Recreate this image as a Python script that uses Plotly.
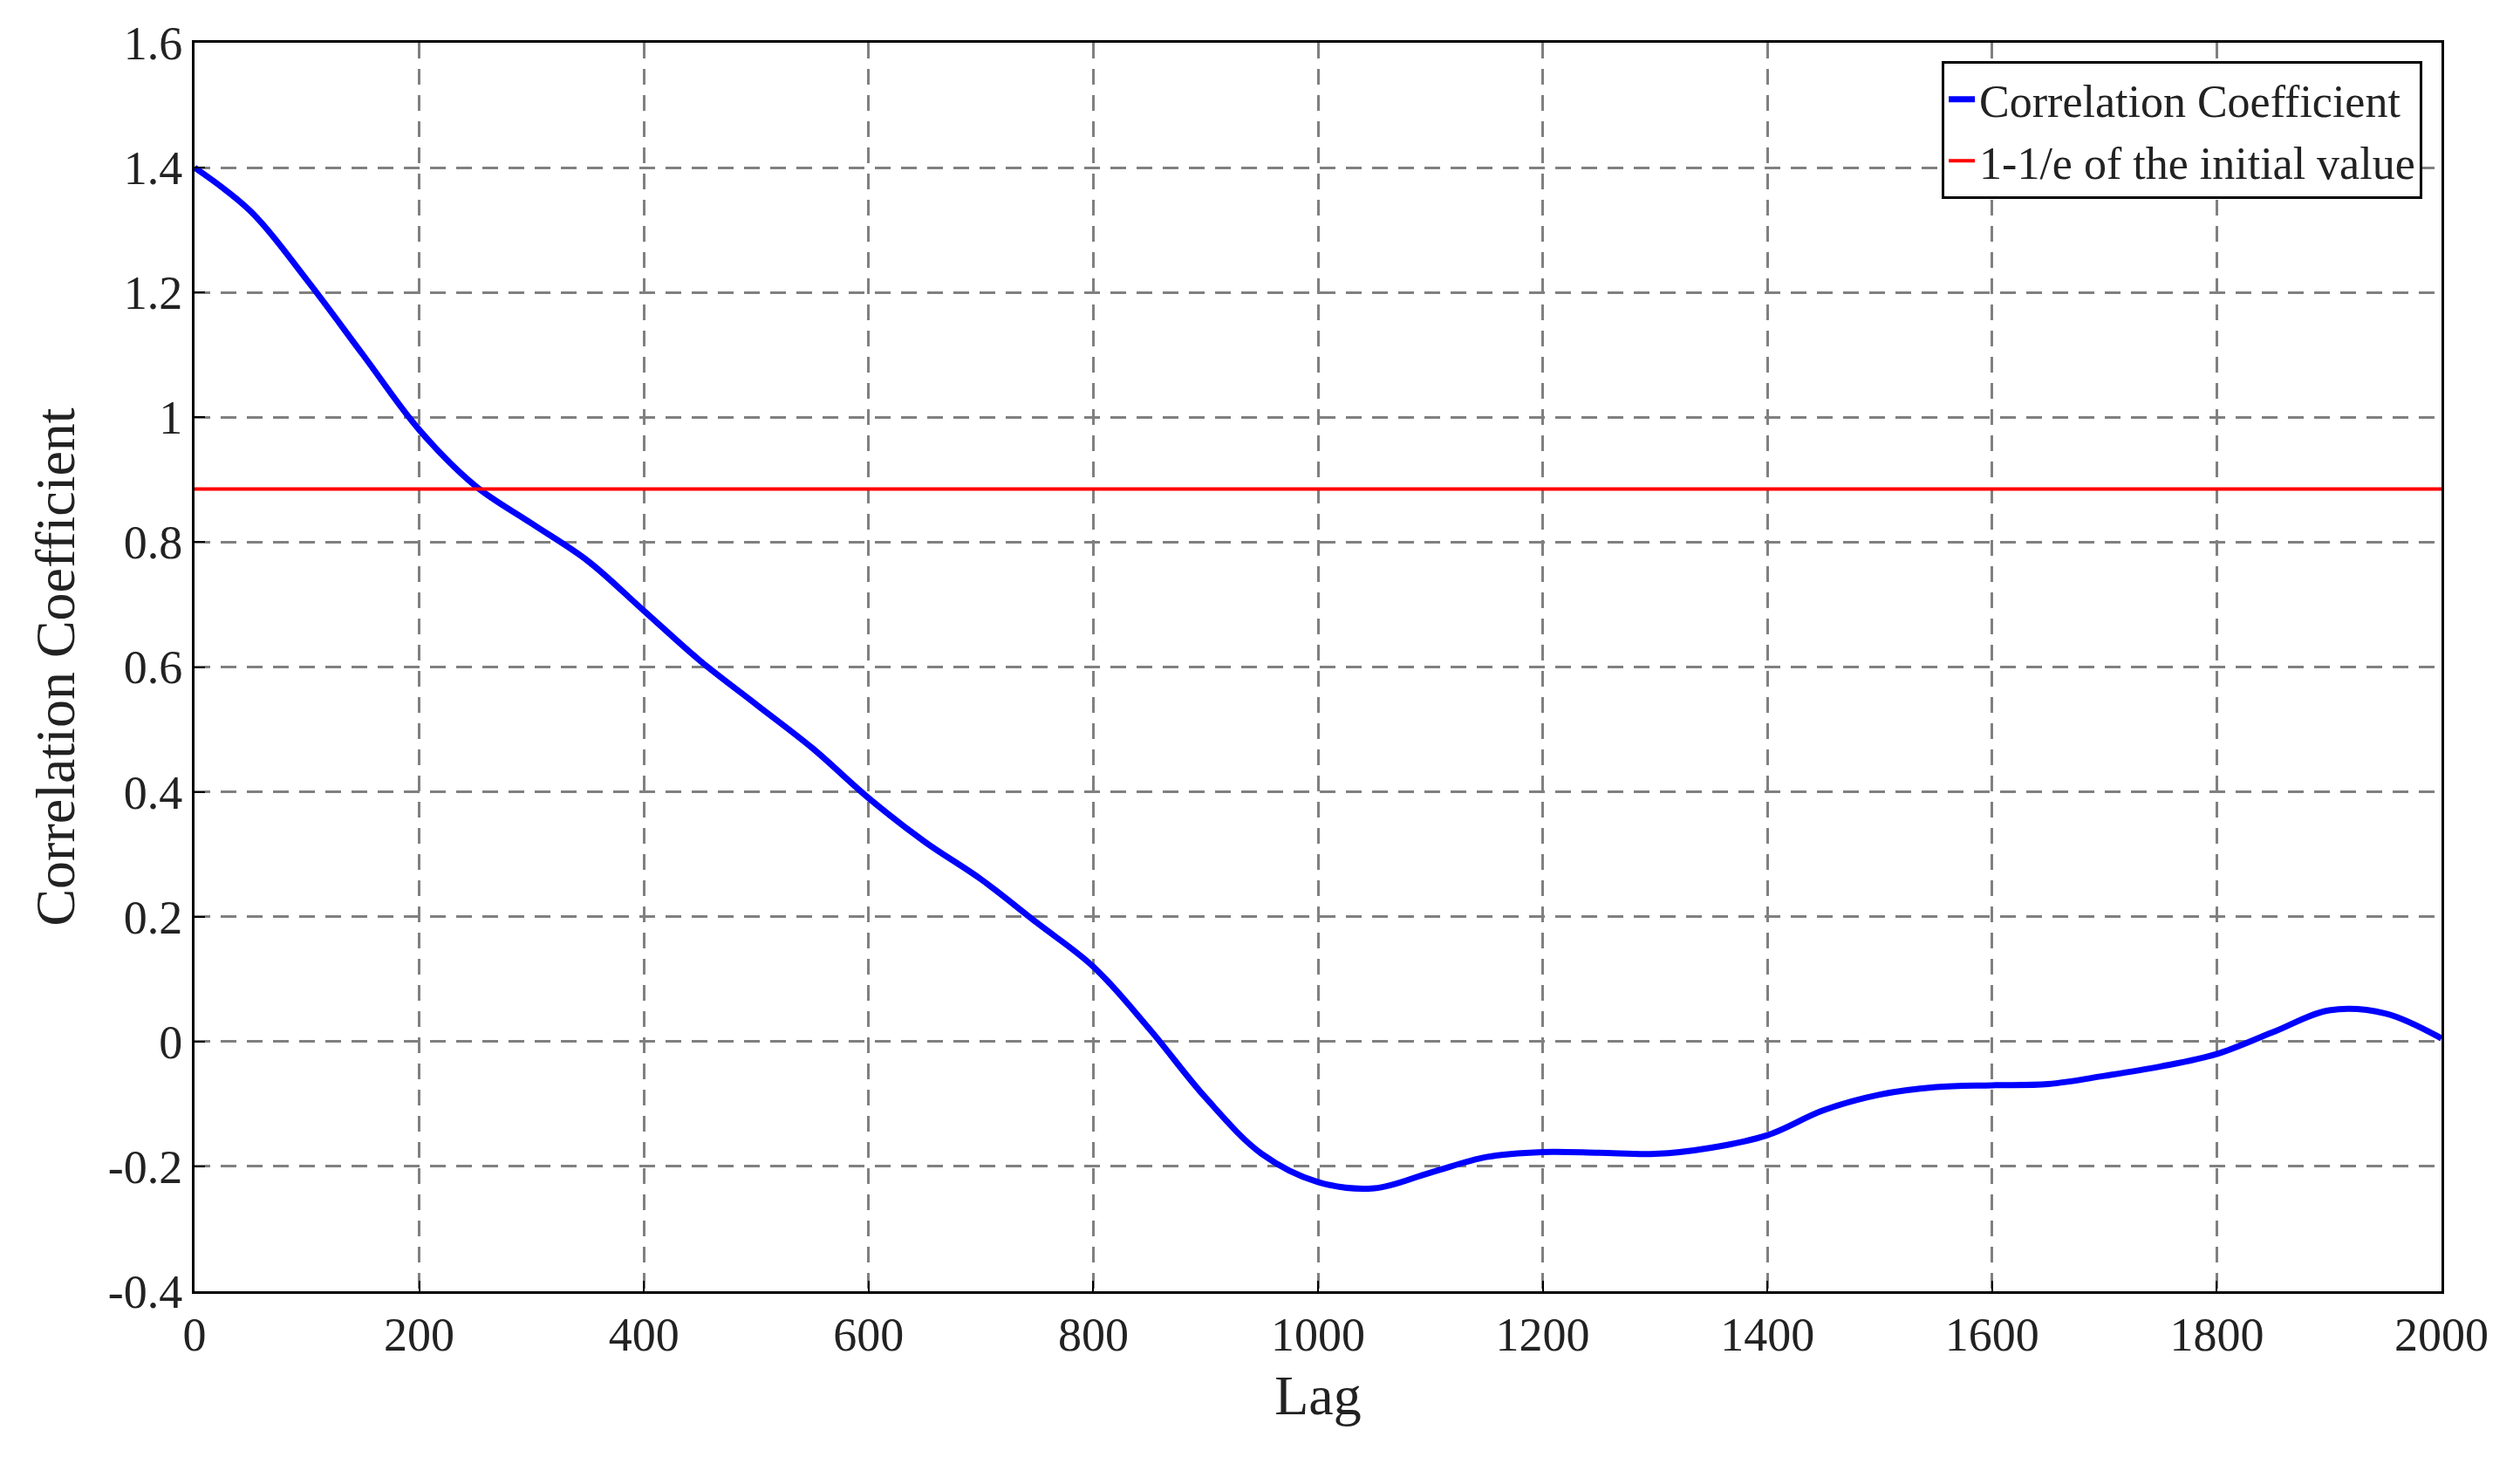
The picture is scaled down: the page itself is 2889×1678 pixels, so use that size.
import plotly.graph_objects as go

lag = list(range(0, 2001, 50))
corr = [1.40, 1.33, 1.22, 1.10, 0.98, 0.89, 0.83, 0.77, 0.69, 0.61, 0.54, 0.47, 0.39, 0.32, 0.26,
        0.19, 0.12, 0.02, -0.09, -0.18, -0.225, -0.235, -0.21, -0.185, -0.177, -0.178, -0.18,
        -0.17, -0.15, -0.11, -0.085, -0.073, -0.07, -0.068, -0.055, -0.04, -0.02, 0.015, 0.05,
        0.045, 0.005]
threshold = 0.885
yticks = [-0.4, -0.2, 0, 0.2, 0.4, 0.6, 0.8, 1, 1.2, 1.4, 1.6]
yticklabels = ["-0.4", "-0.2", "0", "0.2", "0.4", "0.6", "0.8", "1", "1.2", "1.4", "1.6"]

F = "Liberation Serif"
fig = go.Figure()
fig.add_trace(go.Scatter(x=lag, y=corr, mode="lines", line=dict(color="#0000ff", width=7, shape="spline"),
                         name="Correlation Coefficient"))
fig.add_trace(go.Scatter(x=[0, 2000], y=[threshold, threshold], mode="lines",
                         line=dict(color="#ff0000", width=4), name="1-1/e of the initial value"))
ax = dict(showline=True, linecolor="black", linewidth=3, mirror=True, ticks="inside", ticklen=12,
          tickwidth=2, tickcolor="black", showgrid=True, gridcolor="#808080", gridwidth=3,
          griddash="18px,12px", zeroline=False, tickfont=dict(family=F, size=54, color="#222"))
fig.update_layout(
    width=2889, height=1678, plot_bgcolor="white", paper_bgcolor="white",
    margin=dict(l=215, r=98, t=39, b=206),
    xaxis=dict(**ax, range=[0, 2000], dtick=200, title=dict(text="Lag", font=dict(family=F, size=64, color="#222"), standoff=18)),
    yaxis=dict(**ax, range=[-0.4, 1.6], tickvals=yticks, ticktext=yticklabels,
               title=dict(text="Correlation Coefficient", font=dict(family=F, size=64, color="#222"), standoff=18)),
    legend=dict(x=0.9915, y=0.985, xanchor="right", yanchor="top", bgcolor="white", bordercolor="black",
                borderwidth=3, font=dict(family=F, size=52, color="#222"), tracegroupgap=0),
    showlegend=True,
)
fig.write_html("out.html")
